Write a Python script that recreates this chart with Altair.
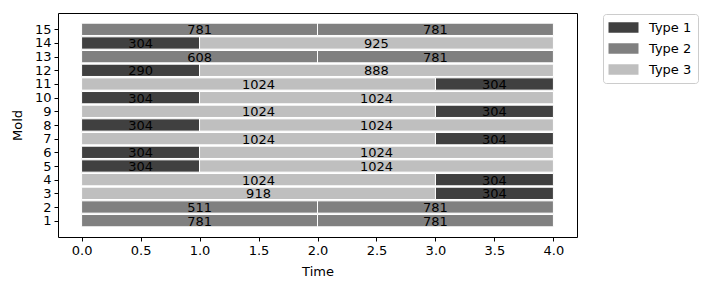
import altair as alt
import pandas as pd

molds = [1, 1, 2, 2, 3, 3, 4, 4, 5, 5, 6, 6, 7, 7, 8, 8, 9, 9, 10, 10, 11, 11, 12, 12, 13, 13, 14, 14, 15, 15]
starts = [0, 2, 0, 2, 0, 3, 0, 3, 0, 1, 0, 1, 0, 3, 0, 1, 0, 3, 0, 1, 0, 3, 0, 1, 0, 2, 0, 1, 0, 2]
ends = [2, 4, 2, 4, 3, 4, 3, 4, 1, 4, 1, 4, 3, 4, 1, 4, 3, 4, 1, 4, 3, 4, 1, 4, 2, 4, 1, 4, 2, 4]
types = ["Type 2", "Type 2", "Type 2", "Type 2", "Type 3", "Type 1", "Type 3", "Type 1",
         "Type 1", "Type 3", "Type 1", "Type 3", "Type 3", "Type 1", "Type 1", "Type 3",
         "Type 3", "Type 1", "Type 1", "Type 3", "Type 3", "Type 1", "Type 1", "Type 3",
         "Type 2", "Type 2", "Type 1", "Type 3", "Type 2", "Type 2"]
values = [781, 781, 511, 781, 918, 304, 1024, 304, 304, 1024, 304, 1024, 1024, 304, 304, 1024,
          1024, 304, 304, 1024, 1024, 304, 290, 888, 608, 781, 304, 925, 781, 781]

type_names = ["Type 1", "Type 2", "Type 3"]
type_colors = ["#404040", "#808080", "#bfbfbf"]
x_ticks = [0.0, 0.5, 1.0, 1.5, 2.0, 2.5, 3.0, 3.5, 4.0]
y_ticks = list(range(1, 16))

df = pd.DataFrame({"mold": molds, "start": starts, "end": ends, "type": types, "value": values})

FONT = "DejaVu Sans"
FS = 13

xscale = alt.Scale(domain=[-0.2, 4.2], nice=False, zero=False)
yscale = alt.Scale(domain=[-0.195, 16.195], nice=False, zero=False)
xaxis = alt.Axis(values=x_ticks, format=".1f", labelFlush=False, labelOverlap=False)
yaxis = alt.Axis(values=y_ticks, format="d", labelOverlap=False, labelFlush=False)

base = alt.Chart(df).transform_calculate(
    y0="datum.mold - 0.45", y1="datum.mold + 0.45", mid="(datum.start + datum.end) / 2"
)

bars = base.mark_bar(stroke="white", strokeWidth=1, opacity=1).encode(
    x=alt.X("start:Q", scale=xscale, title="Time", axis=xaxis),
    x2="end:Q",
    y=alt.Y("y0:Q", scale=yscale, title="Mold", axis=yaxis),
    y2="y1:Q",
    color=alt.Color("type:N", scale=alt.Scale(domain=type_names, range=type_colors),
                    legend=alt.Legend(title=None, orient="none", legendX=545, legendY=1,
                                      symbolType="M-2,-0.7H2V0.7H-2Z", symbolSize=225,
                                      symbolStrokeWidth=0, symbolOpacity=1,
                                      symbolOffset=7, labelOffset=18,
                                      labelFont=FONT, labelFontSize=FS, labelColor="black",
                                      rowPadding=6, padding=6,
                                      strokeColor="#cccccc", fillColor="white",
                                      cornerRadius=3)),
)

labels = base.mark_text(font=FONT, fontSize=FS, baseline="middle", dy=1, color="black").encode(
    x=alt.X("mid:Q", scale=xscale, title="Time", axis=xaxis),
    y=alt.Y("mold:Q", scale=yscale, title="Mold", axis=yaxis),
    text=alt.Text("value:N"),
)

chart = (bars + labels).properties(
    width=519, height=224,
    autosize=alt.AutoSizeParams(type="none"),
    padding={"left": 58, "top": 13, "right": 132, "bottom": 53},
).configure_view(stroke="black", strokeWidth=1).configure_axis(
    domain=False, grid=False, tickColor="black", tickSize=4, tickWidth=1,
    labelColor="black", labelFont=FONT, labelFontSize=FS, labelPadding=3,
    titleFont=FONT, titleFontSize=FS, titleFontWeight="normal", titleColor="black",
).configure_axisX(titlePadding=8).configure_axisY(titlePadding=10)

chart.save("out.html", embed_options={"renderer": "svg", "actions": False})
